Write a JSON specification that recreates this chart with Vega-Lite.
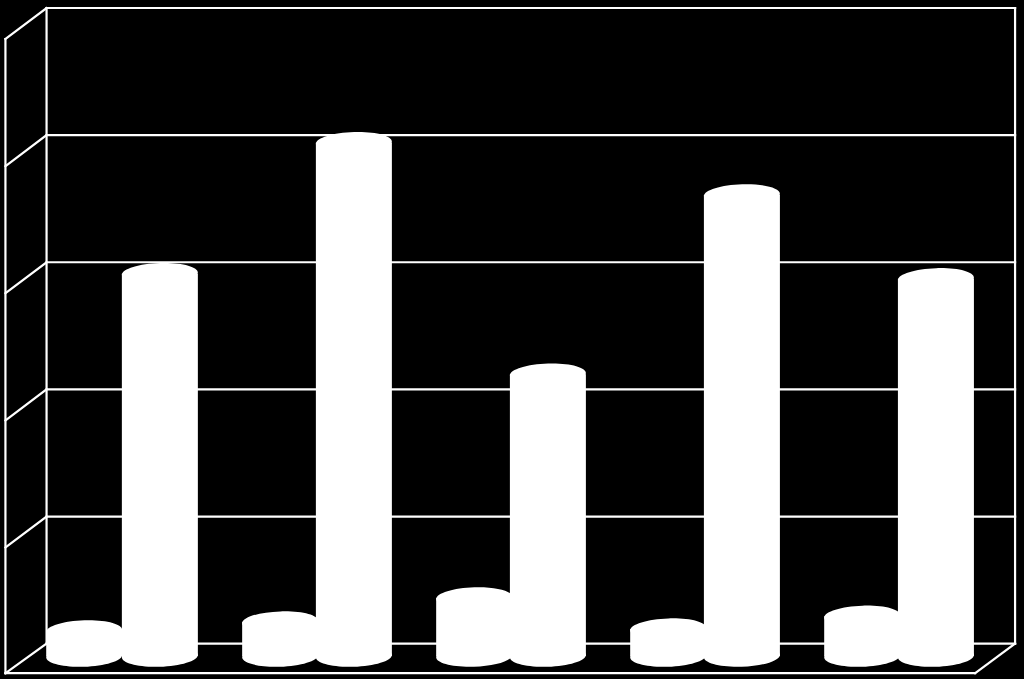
{
  "$schema": "https://vega.github.io/schema/vega-lite/v6.json",
  "width": 1024,
  "height": 679,
  "padding": 0,
  "autosize": {"type": "none"},
  "background": "#000000",
  "view": {"stroke": null},
  "datasets": {
    "bars": [
      {"group": 1, "series": "A", "pos": 0.30, "base": -0.098, "value": 0.10},
      {"group": 1, "series": "B", "pos": 0.69, "base": -0.098, "value": 2.91},
      {"group": 2, "series": "A", "pos": 1.31, "base": -0.098, "value": 0.17},
      {"group": 2, "series": "B", "pos": 1.69, "base": -0.098, "value": 3.94},
      {"group": 3, "series": "A", "pos": 2.31, "base": -0.098, "value": 0.36},
      {"group": 3, "series": "B", "pos": 2.69, "base": -0.098, "value": 2.12},
      {"group": 4, "series": "A", "pos": 3.31, "base": -0.098, "value": 0.115},
      {"group": 4, "series": "B", "pos": 3.69, "base": -0.098, "value": 3.53},
      {"group": 5, "series": "A", "pos": 4.31, "base": -0.098, "value": 0.215},
      {"group": 5, "series": "B", "pos": 4.69, "base": -0.098, "value": 2.87}
    ],
    "frame": [
      {"x0": 0.106, "x1": 5.098, "y0": 5, "y1": 5},
      {"x0": 0.106, "x1": 5.098, "y0": 4, "y1": 4},
      {"x0": 0.106, "x1": 5.098, "y0": 3, "y1": 3},
      {"x0": 0.106, "x1": 5.098, "y0": 2, "y1": 2},
      {"x0": 0.106, "x1": 5.098, "y0": 1, "y1": 1},
      {"x0": 0.106, "x1": 5.098, "y0": 0, "y1": 0},
      {"x0": 0.106, "x1": 0.106, "y0": 0, "y1": 5},
      {"x0": 5.098, "x1": 5.098, "y0": 0, "y1": 5},
      {"x0": -0.106, "x1": -0.106, "y0": -0.232, "y1": 4.756},
      {"x0": 0.106, "x1": -0.106, "y0": 5, "y1": 4.756},
      {"x0": 0.106, "x1": -0.106, "y0": 4, "y1": 3.756},
      {"x0": 0.106, "x1": -0.106, "y0": 3, "y1": 2.756},
      {"x0": 0.106, "x1": -0.106, "y0": 2, "y1": 1.756},
      {"x0": 0.106, "x1": -0.106, "y0": 1, "y1": 0.756},
      {"x0": 0.106, "x1": -0.106, "y0": 0, "y1": -0.232},
      {"x0": -0.106, "x1": 4.892, "y0": -0.232, "y1": -0.232},
      {"x0": 5.098, "x1": 4.892, "y0": 0, "y1": -0.232}
    ]
  },
  "layer": [
    {
      "data": {"name": "frame"},
      "mark": {"type": "rule", "color": "#ffffff", "strokeWidth": 2.2, "strokeCap": "square"},
      "encoding": {
        "x": {"field": "x0", "type": "quantitative", "scale": {"domain": [-0.134, 5.144], "nice": false, "zero": false, "padding": 0}, "axis": null},
        "x2": {"field": "x1"},
        "y": {"field": "y0", "type": "quantitative", "scale": {"domain": [-0.278, 5.063], "nice": false, "zero": false}, "axis": null},
        "y2": {"field": "y1"}
      }
    },
    {
      "data": {"name": "bars"},
      "mark": {"type": "bar", "color": "#ffffff", "orient": "vertical", "size": 76},
      "encoding": {
        "x": {"field": "pos", "type": "quantitative"},
        "y": {"field": "value", "type": "quantitative"},
        "y2": {"field": "base"}
      }
    },
    {
      "data": {"name": "bars"},
      "mark": {"type": "point", "filled": true, "opacity": 1, "color": "#ffffff", "size": 5776, "shape": "M-1,0.03A1,0.28,-2,1,1,1,-0.03A1,0.28,-2,1,1,-1,0.03Z"},
      "encoding": {
        "x": {"field": "pos", "type": "quantitative"},
        "y": {"field": "value", "type": "quantitative"}
      }
    },
    {
      "data": {"name": "bars"},
      "mark": {"type": "point", "filled": true, "opacity": 1, "color": "#ffffff", "size": 5776, "shape": "M-1,0.03A1,0.28,-2,1,1,1,-0.03A1,0.28,-2,1,1,-1,0.03Z"},
      "encoding": {
        "x": {"field": "pos", "type": "quantitative"},
        "y": {"field": "base", "type": "quantitative"}
      }
    }
  ]
}
